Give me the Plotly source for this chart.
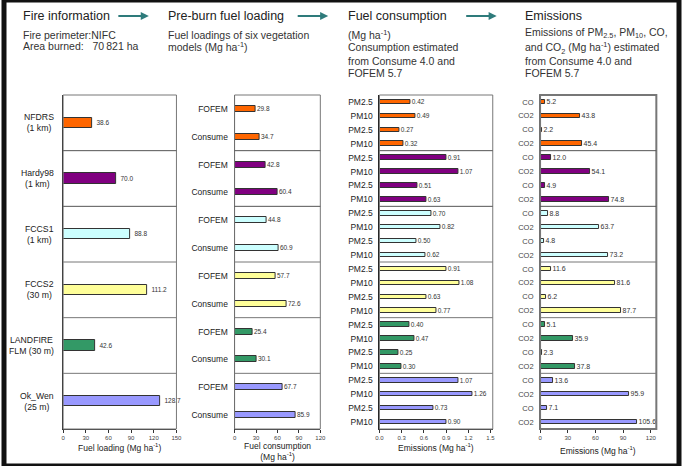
import plotly.graph_objects as go

W, H = 685, 466
FONT = "Liberation Sans"

models = ["NFDRS<br>(1 km)", "Hardy98<br>(1 km)", "FCCS1<br>(1 km)",
          "FCCS2<br>(30 m)", "LANDFIRE<br>FLM (30 m)", "Ok_Wen<br>(25 m)"]
colors = ["#FF6600", "#800080", "#CCFFFF", "#FFFF99", "#339966", "#9999FF"]

# pre-burn fuel loading (Mg/ha)
loading = [38.6, 70.0, 88.8, 111.2, 42.6, 128.7]

# fuel consumption (Mg/ha)
cons_labels = ["FOFEM", "Consume"]
cons_fofem = [29.8, 42.8, 44.8, 57.7, 25.4, 67.7]
cons_consume = [34.7, 60.4, 60.9, 72.6, 30.1, 85.9]

# PM emissions (Mg/ha)
pm_labels = ["PM2.5", "PM10", "PM2.5", "PM10"]
pm25_a = [0.42, 0.91, 0.70, 0.91, 0.40, 1.07]
pm10_a = [0.49, 1.07, 0.82, 1.08, 0.47, 1.26]
pm25_b = [0.27, 0.51, 0.50, 0.63, 0.25, 0.73]
pm10_b = [0.32, 0.63, 0.62, 0.77, 0.30, 0.90]

# CO / CO2 emissions (Mg/ha)
co_labels = ["CO", "CO2", "CO", "CO2"]
co_a = [5.2, 12.0, 8.8, 11.6, 5.1, 13.6]
co2_a = [43.8, 54.1, 63.7, 81.6, 35.9, 95.9]
co_b = [2.2, 4.9, 4.8, 6.2, 2.3, 7.1]
co2_b = [45.4, 74.8, 73.2, 87.7, 37.8, 105.6]


def px_x(p):
    return p / W


def px_y(p):
    return 1 - p / H


ydom = [px_y(429), px_y(95)]
panels = [
    dict(x=[60, 175], rng=[0, 150], tmax=150, dt=30, tfmt=None),
    dict(x=[234, 321], rng=[0, 120], tmax=120, dt=30, tfmt=None),
    dict(x=[381, 496], rng=[0, 1.53], tmax=1.5, dt=0.3, tfmt=".1f"),
    dict(x=[544, 662], rng=[0, 126], tmax=120, dt=30, tfmt=None),
]


def interleave(*cols):
    out = []
    for i in range(len(models)):
        for c in cols:
            out.append(c[i])
    return out


series = [
    (loading, 1, 0.18, "%.1f", 6.5),
    (interleave(cons_fofem, cons_consume), 2, 0.22, "%.1f", 6.5),
    (interleave(pm25_a, pm10_a, pm25_b, pm10_b), 4, 0.32, "%.2f", 6.5),
    (interleave(co_a, co2_a, co_b, co2_b), 4, 0.32, "%.1f", 7),
]

fig = go.Figure()
shapes = []
annotations = []

for k, (vals, per, bw, fmt, tsize) in enumerate(series):
    n = len(vals)
    ys = list(range(n))
    cols = [colors[i // per] for i in range(n)]
    sx = "x" if k == 0 else "x%d" % (k + 1)
    sy = "y" if k == 0 else "y%d" % (k + 1)
    fig.add_trace(go.Bar(
        x=vals, y=ys, orientation="h", width=bw,
        marker=dict(color=cols, line=dict(color="#333333", width=1)),
        text=["\u00a0" + fmt % v for v in vals], textposition="outside",
        constraintext="none",
        textfont=dict(size=tsize, color="#333333", family=FONT),
        cliponaxis=False, xaxis=sx, yaxis=sy, showlegend=False,
    ))
    p = panels[k]
    axn = "" if k == 0 else str(k + 1)
    ticks = []
    t = 0
    while t <= p["tmax"] + 1e-9:
        ticks.append(round(t, 2))
        t += p["dt"]
    fig.update_layout(**{
        "xaxis" + axn: dict(
            domain=[px_x(p["x"][0]), px_x(p["x"][1])], range=p["rng"],
            anchor=sy, tickvals=ticks,
            ticktext=[("%.1f" % v) if p["tfmt"] else "%d" % v for v in ticks],
            ticks="outside", ticklen=3, tickcolor="#333333",
            tickfont=dict(size=6, color="#444444", family=FONT),
            showline=True, linecolor="#333333", linewidth=1,
            showgrid=False, zeroline=False, fixedrange=True,
        ),
        "yaxis" + axn: dict(
            domain=ydom, range=[n - 0.5, -0.5], anchor=sx,
            showline=True, linecolor="#222222", linewidth=1,
            showgrid=False, zeroline=False, fixedrange=True,
            ticks="outside", ticklen=4, tickcolor="rgba(0,0,0,0)",
        ),
    })
    if k == 0:
        fig.update_layout(yaxis=dict(showticklabels=False))
        for i, m in enumerate(models):
            annotations.append(dict(
                text=m, x=px_x(53), xref="paper", y=i, yref="y",
                xanchor="right", yanchor="middle", align="center",
                showarrow=False, font=dict(size=8.7, color="#222222", family=FONT)))
    else:
        labs = [cons_labels, pm_labels, co_labels][k - 1]
        fig.update_layout(**{"yaxis" + axn: dict(
            tickvals=ys, ticktext=[labs[i % per] for i in range(n)],
            tickfont=dict(size=7.5 if k == 3 else 8.5,
                          color="#444444" if k == 3 else "#222222", family=FONT),
        )})
    # frame and group dividers
    shapes.append(dict(type="rect", xref=sx + " domain", yref=sy + " domain",
                       x0=0, x1=1, y0=0, y1=1,
                       line=dict(color="#777777", width=2 if k == 3 else 1)))
    for g in range(1, len(models)):
        yb = g * per - 0.5
        shapes.append(dict(type="line", xref=sx + " domain", yref=sy,
                           x0=0, x1=1, y0=yb, y1=yb,
                           line=dict(color="#555555" if g < 3 else "#777777", width=1)))

# axis titles
titles = [
    ("Fuel loading (Mg ha<sup>-1</sup>)", 0, 447),
    ("Fuel consumption<br>(Mg ha<sup>-1</sup>)", 1, 451),
    ("Emissions (Mg ha<sup>-1</sup>)", 2, 447),
    ("Emissions (Mg ha<sup>-1</sup>)", 3, 450),
]
for txt, k, yp in titles:
    sx = "x" if k == 0 else "x%d" % (k + 1)
    annotations.append(dict(text=txt, xref=sx + " domain", x=0.5, yref="paper", y=px_y(yp),
                            xanchor="center", yanchor="middle", showarrow=False,
                            font=dict(size=8.5, color="#222222", family=FONT)))

# headers
headers = [("Fire information", 17), ("Pre-burn fuel loading", 164),
           ("Fuel consumption", 347), ("Emissions", 527)]
for txt, xp in headers:
    annotations.append(dict(text=txt, xref="paper", x=px_x(xp), yref="paper", y=px_y(16),
                            xanchor="left", yanchor="middle", showarrow=False,
                            font=dict(size=12.5, color="#222222", family=FONT)))

arrows = [(115, 147), (297, 329), (468, 500)]
for x0, x1 in arrows:
    annotations.append(dict(text="", xref="paper", x=px_x(x1), yref="paper", y=px_y(16),
                            ax=-(x1 - x0), ay=0, showarrow=True, arrowhead=2,
                            arrowsize=0.9, arrowwidth=1.8, arrowcolor="#2E7B7B"))

sub_lines = [
    ("Fire perimeter:NIFC", 17, 34.5),
    ("Area burned:   70\u2009821 ha", 17, 46),
    ("Fuel loadings of six vegetation", 164, 34.5),
    ("models (Mg ha<sup>-1</sup>)", 164, 46),
    ("(Mg ha<sup>-1</sup>)", 347, 34),
    ("Consumption estimated", 347, 47),
    ("from Consume 4.0 and", 347, 60.5),
    ("FOFEM 5.7", 347, 73),
    ("Emissions of PM<sub>2.5</sub>, PM<sub>10</sub>, CO,", 527, 33.5),
    ("and CO<sub>2</sub> (Mg ha<sup>-1</sup>) estimated", 527, 47.5),
    ("from Consume 4.0 and", 527, 61),
    ("FOFEM 5.7", 527, 73),
]
for txt, xp, yp in sub_lines:
    annotations.append(dict(text=txt, xref="paper", x=px_x(xp), yref="paper", y=px_y(yp),
                            xanchor="left", yanchor="middle", showarrow=False,
                            font=dict(size=10.5, color="#333333", family=FONT)))

# outer black frame
shapes.append(dict(type="rect", xref="paper", yref="paper", x0=0, x1=1, y0=0, y1=1,
                   line=dict(color="#111111", width=5)))

fig.update_layout(
    width=W, height=H, margin=dict(l=0, r=0, t=0, b=0),
    paper_bgcolor="white", plot_bgcolor="white",
    font=dict(family=FONT, color="#222222"),
    shapes=shapes, annotations=annotations, bargap=0,
)

fig.write_html("out.html", config={"displayModeBar": False},
               post_script="document.body.style.margin='0px';")
